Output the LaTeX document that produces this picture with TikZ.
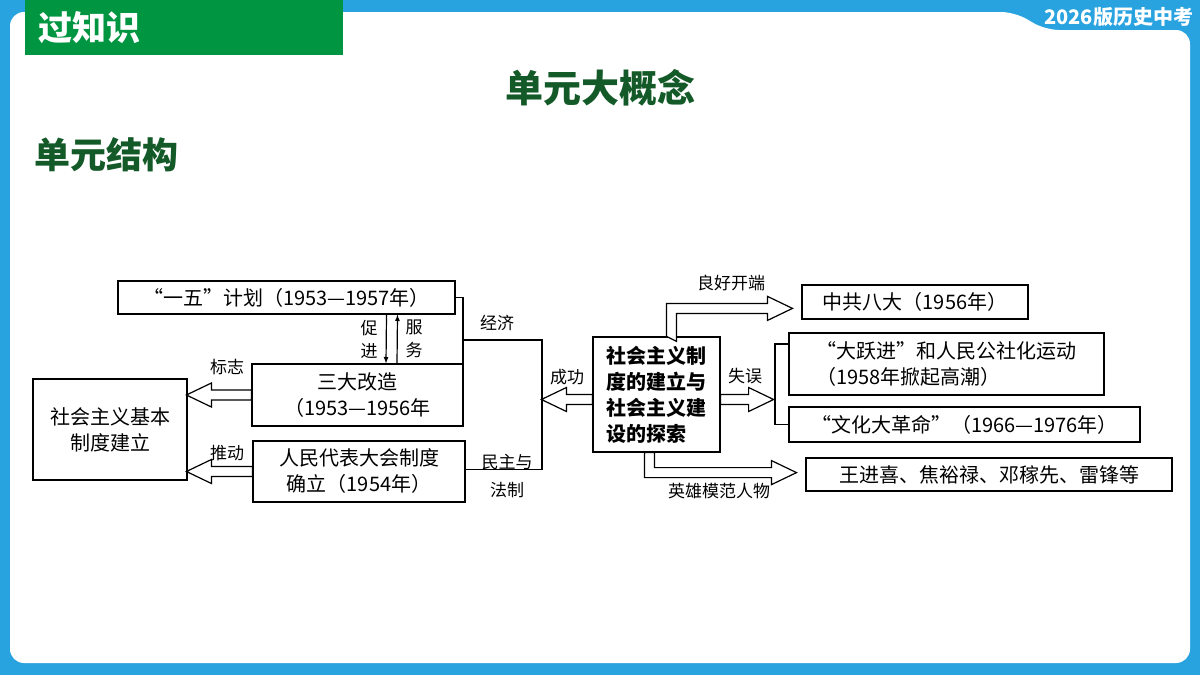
\documentclass[tikz,border=0pt]{standalone}
\usepackage{fontspec}
\setmainfont{Noto Sans CJK SC}
\usetikzlibrary{positioning,calc}
\definecolor{frameblue}{RGB}{41,163,224}
\definecolor{tabgreen}{RGB}{0,149,64}
\definecolor{titlegreen}{RGB}{20,90,40}
\tikzset{every picture/.style={line width=1pt}}
\tikzset{
  boxnode/.style={draw,line width=1.2pt,inner sep=3pt,align=center,font=\fontsize{20}{26}\selectfont},
  lbl/.style={inner sep=1pt,align=center,font=\fontsize{17}{20}\selectfont},
  hollow/.style={draw,line width=1.2pt,fill=white},
  link/.style={draw,line width=1.2pt}
}

\begin{document}
\begin{tikzpicture}[x=1pt,y=1pt,yscale=-1,xscale=1]
\useasboundingbox (0,0) rectangle (1200,675);
%Background frame
\fill [frameblue] (0,0) rectangle (1200,675);
\fill [white,rounded corners=14pt] (10,12) -- (1015,12) -- (1045,30) -- (1190,30) -- (1190,663) -- (10,663) -- cycle;
\fill [tabgreen] (25,0) rectangle (343,55);
\node [anchor=west,text=white,font=\fontsize{34}{36}\selectfont\bfseries] (tab) at (35,28) {过知识};
\node [anchor=east,text=white,font=\fontsize{20}{22}\selectfont\bfseries] (edition) at (1197,17) {2026版历史中考};

% Titles
\node [text=titlegreen,font=\fontsize{38}{42}\selectfont\bfseries] (title) at (600,88) {单元大概念};
\node [anchor=west,text=titlegreen,font=\fontsize{36}{40}\selectfont\bfseries] (unit) at (31,155) {单元结构};

% Left boxes
\node [boxnode,minimum width=337pt,minimum height=33pt] (plan) at (286.5,297.5) {“一五”计划（1953—1957年）};
\node [boxnode,minimum width=211pt,minimum height=62pt] (sanda) at (357.5,395) {三大改造\\（1953—1956年};
\node [boxnode,minimum width=212pt,minimum height=61pt] (renda) at (359,471.5) {人民代表大会制度\\确立（1954年）};
\node [boxnode,minimum width=154pt,minimum height=101pt] (base) at (110,429.5) {社会主义基本\\制度建立};

% Center box
\node [boxnode,minimum width=127pt,minimum height=115pt,font=\fontsize{20}{26}\selectfont\bfseries,align=left] (center) at (656.5,394.5) {社会主义制\\度的建立与\\社会主义建\\设的探索};

% Right boxes
\node [boxnode,minimum width=226pt,minimum height=34pt] (bada) at (915,302) {中共八大（1956年）};
\node [boxnode,minimum width=315pt,minimum height=62pt,align=left] (dayue) at (946.5,364) {“大跃进”和人民公社化运动\\（1958年掀起高潮）};
\node [boxnode,minimum width=351pt,minimum height=35pt] (wenge) at (964.5,424.5) {“文化大革命”（1966—1976年）};
\node [boxnode,minimum width=366pt,minimum height=33pt] (heroes) at (989,474.5) {王进喜、焦裕禄、邓稼先、雷锋等};

% Brackets
\coordinate (joinL) at (542,400);
\draw [link] (plan.east) -| (463,340) |- ([yshift=-11pt]sanda.east);
\draw [link] (463,340) -| (joinL) |- ([yshift=-2pt]renda.east);
\coordinate (joinR) at (775,400);
\draw [link] ([yshift=-20pt]dayue.west) -| (joinR) |- (wenge.west);

% Thin arrows
\draw [link,-latex] ([xshift=100pt]plan.south) -- ([xshift=28.5pt]sanda.north);
\draw [link,-latex] ([xshift=39.5pt]sanda.north) -- ([xshift=111pt]plan.south);

% Hollow arrows
\draw [hollow] ([yshift=-5pt]sanda.west) -- ++(-40,0) -- ++(0,-7) -- ++(-25,12) -- ++(25,12) -- ++(0,-7) -- ++(40,0) -- cycle;
\draw [hollow] ([yshift=-5pt]renda.west) -- ++(-41,0) -- ++(0,-7) -- ++(-25,12) -- ++(25,12) -- ++(0,-7) -- ++(41,0) -- cycle;
\draw [hollow] ([yshift=0pt]center.west) -- ++(-26,0) -- ++(0,-7) -- ++(-25,12) -- ++(25,12) -- ++(0,-7) -- ++(26,0) -- cycle;
\draw [hollow] ([yshift=0pt]center.east) -- ++(28,0) -- ++(0,-7) -- ++(25,12) -- ++(-25,12) -- ++(0,-7) -- ++(-28,0) -- cycle;
\draw [hollow] ([xshift=10pt]center.north) -- ++(0,-33) -- ++(101,0) -- ++(0,-7) -- ++(25,12) -- ++(-25,12) -- ++(0,-7) -- ++(-91,0) -- ++(0,28) -- cycle;
\draw [hollow] ([xshift=-2pt]center.south) -- ++(0,15) -- ++(117,0) -- ++(0,-7) -- ++(25,12) -- ++(-25,12) -- ++(0,-7) -- ++(-127,0) -- ++(0,-25) -- cycle;

% Labels
\node [lbl] (jingji) at (497,323) {经济};
\node [lbl] (minzhu) at (507,462) {民主与};
\node [lbl] (fazhi) at (507,490) {法制};
\node [lbl] (chenggong) at (567,377) {成功};
\node [lbl,font=\fontsize{17}{23}\selectfont] (cujin) at (369,339) {促\\进};
\node [lbl,font=\fontsize{17}{23}\selectfont] (fuwu) at (414,339) {服\\务};
\node [lbl] (biaozhi) at (227,367) {标志};
\node [lbl] (tuidong) at (227,453) {推动};
\node [lbl] (lianghao) at (731,283) {良好开端};
\node [lbl] (shiwu) at (745,376) {失误};
\node [lbl] (yingxiong) at (719,491) {英雄模范人物};
\end{tikzpicture}
\end{document}
